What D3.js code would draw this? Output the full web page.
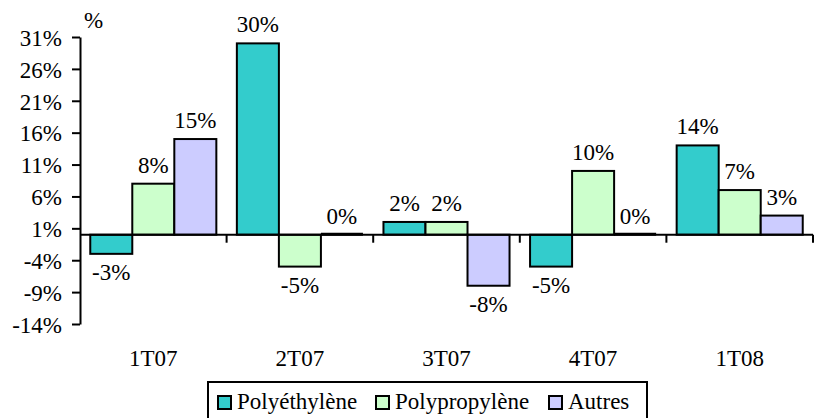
<!DOCTYPE html>
<html>
<head>
<meta charset="utf-8">
<script src="https://cdn.jsdelivr.net/npm/d3@7"></script>
<style>
  html, body { margin: 0; padding: 0; background: #fff; }
  svg { display: block; }
  svg text { font-family: "Liberation Serif", "Tinos", "Noto Serif", "FreeSerif", "DejaVu Serif", "Times New Roman", Times, serif; fill: #000; }
</style>
</head>
<body>
<svg id="chart" width="814" height="418"></svg>
<script>
// Quarterly change by resin type
const quarters = ["1T07", "2T07", "3T07", "4T07", "1T08"];
const seriesNames = ["Polyéthylène", "Polypropylène", "Autres"];
const polyethylene = [-3, 30, 2, -5, 14];
const polypropylene = [8, -5, 2, 10, 7];
const autres = [15, 0, -8, 0, 3];
const yTicks = [-14, -9, -4, 1, 6, 11, 16, 21, 26, 31];
const colors = ["#33CCCC", "#CCFFCC", "#CCCCFF"];

const seriesValues = [polyethylene, polypropylene, autres];

const serif = "'Liberation Serif', 'Tinos', 'Noto Serif', 'FreeSerif', 'DejaVu Serif', 'Times New Roman', Times, serif";
const svg = d3.select("#chart").attr("font-family", serif);
const fontSize = 23;

const plot = { left: 80, right: 813, top: 37, bottom: 324 };

const y = d3.scaleLinear().domain([-14, 31]).range([plot.bottom, plot.top]);
const x0 = d3.scaleBand().domain(quarters).range([plot.left, plot.right]).paddingInner(0.14).paddingOuter(0.07);
const x1 = d3.scaleBand().domain(seriesNames).range([0, x0.bandwidth()]);
const xStep = d3.scalePoint().domain(d3.range(quarters.length + 1)).range([plot.left, plot.right]);

const rows = (q, qi) => seriesNames.map((s, si) => ({ s, si, v: seriesValues[si][qi] }));

// Bars
const groups = svg.append("g").selectAll("g")
  .data(quarters)
  .join("g")
  .attr("transform", d => `translate(${x0(d)},0)`);

groups.selectAll("rect")
  .data(rows)
  .join("rect")
  .attr("x", d => x1(d.s))
  .attr("width", x1.bandwidth())
  .attr("y", d => Math.min(y(d.v), y(0)))
  .attr("height", d => Math.abs(y(d.v) - y(0)))
  .attr("fill", d => colors[d.si])
  .attr("stroke", "#000")
  .attr("stroke-width", 2);

// Value labels
groups.selectAll("text")
  .data(rows)
  .join("text")
  .attr("font-family", serif)
  .attr("x", d => x1(d.s) + x1.bandwidth() / 2)
  .attr("y", d => d.v < 0 ? y(d.v) + 26 : y(d.v) - 11)
  .attr("text-anchor", "middle")
  .attr("font-size", fontSize)
  .text(d => d.v + "%");

// Y axis
const yAxis = d3.axisLeft(y).tickValues(yTicks).tickFormat(d => d + "%").tickSize(8).tickSizeOuter(0);
const gy = svg.append("g").attr("transform", `translate(${plot.left},0)`).call(yAxis);
gy.attr("font-family", serif).attr("font-size", fontSize);
gy.select(".domain").attr("stroke", "#000").attr("stroke-width", 2);
gy.selectAll(".tick line").attr("stroke", "#000").attr("stroke-width", 2);
gy.selectAll(".tick text")
  .attr("font-family", serif)
  .attr("font-size", fontSize)
  .attr("x", -18)
  .attr("dy", "0.36em");

// Unit label
svg.append("text")
  .attr("font-family", serif)
  .attr("x", 84)
  .attr("y", 28)
  .attr("font-size", fontSize)
  .text("%");

// Category axis crossing at zero, with ticks on the group boundaries
const zeroY = y(0);
svg.append("line")
  .attr("x1", plot.left).attr("x2", plot.right)
  .attr("y1", zeroY).attr("y2", zeroY)
  .attr("stroke", "#000").attr("stroke-width", 2);
svg.append("g").selectAll("line")
  .data(d3.range(1, quarters.length + 1))
  .join("line")
  .attr("x1", d => xStep(d)).attr("x2", d => xStep(d))
  .attr("y1", zeroY).attr("y2", zeroY + 8)
  .attr("stroke", "#000").attr("stroke-width", 2);

// Zero-valued bars read as a slightly heavier rule on the axis
groups.selectAll("line.zero")
  .data((q, qi) => rows(q, qi).filter(d => d.v === 0))
  .join("line")
  .attr("class", "zero")
  .attr("x1", d => x1(d.s)).attr("x2", d => x1(d.s) + x1.bandwidth())
  .attr("y1", d => y(d.v) - 0.5).attr("y2", d => y(d.v) - 0.5)
  .attr("stroke", "#000").attr("stroke-width", 3);

// Category labels at the bottom of the plot
svg.append("g").selectAll("text")
  .data(quarters)
  .join("text")
  .attr("font-family", serif)
  .attr("x", d => x0(d) + x0.bandwidth() / 2)
  .attr("y", 366)
  .attr("text-anchor", "middle")
  .attr("font-size", fontSize)
  .text(d => d);

// Legend
const legend = svg.append("g");
legend.append("rect")
  .attr("x", 208).attr("y", 382)
  .attr("width", 439).attr("height", 60)
  .attr("fill", "#fff").attr("stroke", "#000").attr("stroke-width", 2);

const legendX = [218, 376, 549];
const items = legend.selectAll("g.item")
  .data(seriesNames)
  .join("g")
  .attr("class", "item")
  .attr("transform", (d, i) => `translate(${legendX[i]},396)`);
items.append("rect")
  .attr("width", 13).attr("height", 13)
  .attr("fill", (d, i) => colors[i])
  .attr("stroke", "#000").attr("stroke-width", 2);
items.append("text")
  .attr("font-family", serif)
  .attr("x", 19)
  .attr("y", 13)
  .attr("font-size", fontSize)
  .text(d => d);
</script>
</body>
</html>
